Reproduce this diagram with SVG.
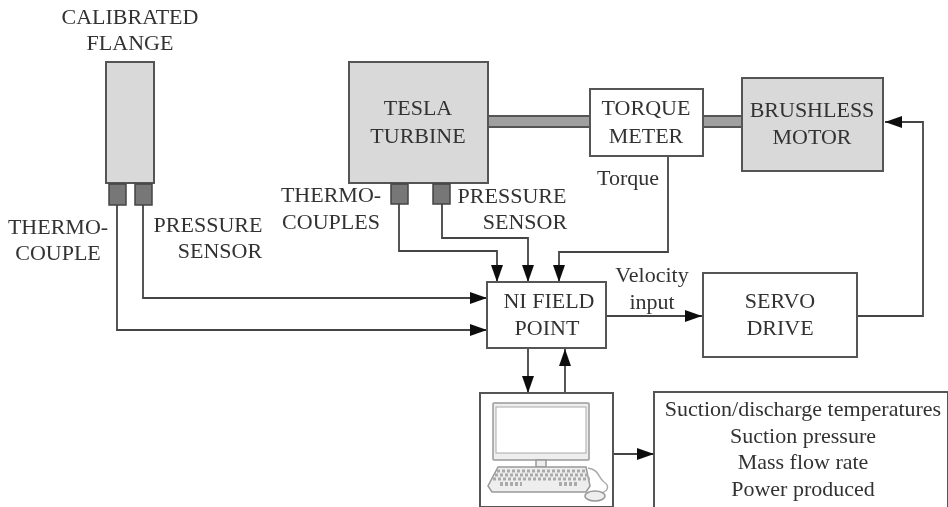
<svg xmlns="http://www.w3.org/2000/svg" width="948" height="507" viewBox="0 0 948 507">
<defs>
<marker id="a" markerUnits="userSpaceOnUse" markerWidth="18" markerHeight="14" refX="17" refY="6" orient="auto"><path d="M0 0L17 6L0 12Z" fill="#111"/></marker>
<filter id="soft" x="0" y="0" width="100%" height="100%"><feGaussianBlur stdDeviation="0.6"/></filter>
</defs>
<style>
text{font-family:"Liberation Serif",serif;font-size:22px;fill:#333;text-anchor:middle}
.b{fill:#fff;stroke:#555;stroke-width:2}
.g{fill:#d9d9d9;stroke:#555;stroke-width:2}
.s{fill:#777;stroke:#444;stroke-width:1.5}
.w{fill:#a0a0a0;stroke:#555;stroke-width:2}
.c{fill:none;stroke:#444;stroke-width:1.8}
.k{fill:#eee;stroke:#999;stroke-width:1.5}
</style>
<rect width="948" height="507" fill="#fff"/>
<g filter="url(#soft)">
<g id="connectors">
<path class="w" d="M488 116H590V127H488Z"/>
<path class="w" d="M703 116H742V127H703Z"/>
<path class="c" marker-end="url(#a)" d="M117 205V330H487"/>
<path class="c" marker-end="url(#a)" d="M143 205V298H487"/>
<path class="c" marker-end="url(#a)" d="M399 204V251H497V282"/>
<path class="c" marker-end="url(#a)" d="M442 204V238H528V282"/>
<path class="c" marker-end="url(#a)" d="M668 156V252H559V282"/>
<path class="c" marker-end="url(#a)" d="M606 316H702"/>
<path class="c" marker-end="url(#a)" d="M857 316H923V122H885"/>
<path class="c" marker-end="url(#a)" d="M528 348V393"/>
<path class="c" marker-end="url(#a)" d="M565 393V349"/>
<path class="c" marker-end="url(#a)" d="M613 454H654"/>
</g>
<g id="flange"><rect class="g" x="106" y="62" width="48" height="121"/><text x="130" y="24">CALIBRATED</text><text x="130" y="50">FLANGE</text></g>
<g id="thermocouple"><rect class="s" x="109" y="184" width="17" height="21"/><text x="58" y="234">THERMO-</text><text x="58" y="260">COUPLE</text></g>
<g id="pressure1"><rect class="s" x="135" y="184" width="17" height="21"/><text x="208" y="232">PRESSURE</text><text x="220" y="258">SENSOR</text></g>
<g id="turbine"><rect class="g" x="349" y="62" width="139" height="121"/><text x="418" y="115">TESLA</text><text x="418" y="143">TURBINE</text></g>
<g id="thermocouples"><rect class="s" x="391" y="184" width="17" height="20"/><text x="331" y="202">THERMO-</text><text x="331" y="229">COUPLES</text></g>
<g id="pressure2"><rect class="s" x="433" y="184" width="17" height="20"/><text x="512" y="203">PRESSURE</text><text x="525" y="229">SENSOR</text></g>
<g id="torquemeter"><rect class="b" x="590" y="89" width="113" height="67"/><text x="646" y="115">TORQUE</text><text x="646" y="143">METER</text><text x="628" y="185">Torque</text></g>
<g id="motor"><rect class="g" x="742" y="78" width="141" height="93"/><text x="812" y="117">BRUSHLESS</text><text x="812" y="144">MOTOR</text></g>
<g id="nifp"><rect class="b" x="487" y="282" width="119" height="66"/><text x="549" y="308">NI FIELD</text><text x="547" y="335">POINT</text></g>
<g id="velocity"><text x="652" y="282">Velocity</text><text x="652" y="309">input</text></g>
<g id="servo"><rect class="b" x="703" y="273" width="154" height="84"/><text x="780" y="308">SERVO</text><text x="780" y="335">DRIVE</text></g>
<g id="computer"><rect class="b" x="480" y="393" width="133" height="114"/>
<rect class="k" x="493" y="403" width="96" height="57" rx="1"/><rect x="496" y="407" width="90" height="46" fill="#fff" stroke="#aaa"/>
<path class="k" d="M536 460h10v7h-10z"/><path class="k" d="M498 467H586L590 486L586 492H492L488 486Z"/>
<path d="M497 471H586M495 475H588M493 479H590" stroke="#aaa" stroke-width="3" stroke-dasharray="3 2" fill="none"/>
<path d="M500 484H522M559 484H578" stroke="#aaa" stroke-width="4" stroke-dasharray="3 2" fill="none"/>
<path d="M588 468C600 470 598 478 604 482C610 486 608 492 600 493" fill="none" stroke="#aaa" stroke-width="1.5"/><ellipse class="k" cx="595" cy="496" rx="10" ry="5"/></g>
<g id="output"><path class="b" d="M654 507V392H948V507"/><text x="803" y="416">Suction/discharge temperatures</text><text x="803" y="443">Suction pressure</text><text x="803" y="469">Mass flow rate</text><text x="803" y="496">Power produced</text></g>
</g>
</svg>
